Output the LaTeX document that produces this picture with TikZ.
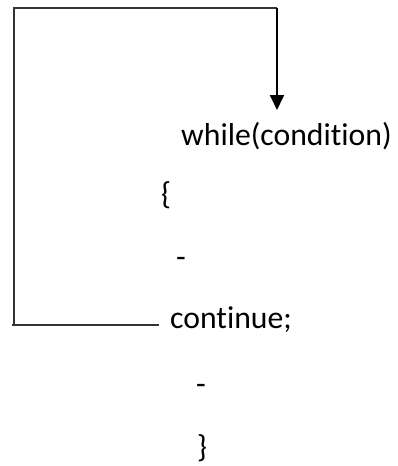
\documentclass[tikz,border=0pt]{standalone}
\usepackage{fontspec}
\setmainfont[Ligatures=NoCommon]{Carlito}
\usetikzlibrary{arrows.meta}
\begin{document}
\begin{tikzpicture}[x=1pt,y=-1pt,
  code/.style={inner sep=0pt,anchor=base west,font=\fontsize{31.7}{36}\selectfont},
  thin line/.style={line width=1.1pt,black!80},
  loop arrow/.style={line width=2pt,-{Triangle[length=15pt,width=14pt]}}]
\useasboundingbox (0,0) rectangle (398,466);
\node[code] (while) at (181,145) {while(condition)};
\node[code] (open) at (161,204) {\{};
\node[code] (d1) at (176,267) {-};
\node[code] (cont) at (170,328) {continue;};
\node[code] (d2) at (196,394) {-};
\node[code] (close) at (197,457) {\}};
\coordinate (bl) at (14,325);
\coordinate (tl) at (14,8);
\coordinate (tr) at (277,8);
\path (while.base) ++(0,-35) coordinate (tipy);
\draw[thin line] ([xshift=-11pt]cont.west |- bl) -- ++(-147,0);
\draw[thin line] (bl) -- (tl) -- (tr);
\draw[loop arrow] (tr) -- (tr |- tipy);
\end{tikzpicture}
\end{document}
